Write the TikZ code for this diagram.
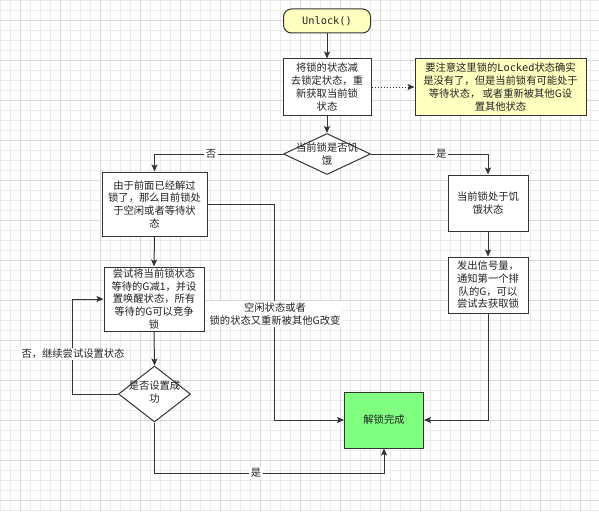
\documentclass[tikz,border=0pt]{standalone}
\usepackage{fontspec}
\setmainfont{Noto Sans CJK SC}
\newfontfamily\monof{DejaVu Sans Mono}
\usetikzlibrary{arrows.meta,shapes.geometric}
\definecolor{linec}{HTML}{333333}
\definecolor{txtc}{HTML}{222222}
\definecolor{minorc}{HTML}{EBEBEB}
\definecolor{majorc}{HTML}{D8D8D8}
\definecolor{notec}{HTML}{FFFFC0}
\definecolor{greenc}{HTML}{80FF80}
\tikzset{
  base/.style={draw=linec, line width=1pt, text=txtc, inner sep=0pt, align=center,
    font=\fontsize{10.3}{12.7}\selectfont},
  boxn/.style={base, rectangle, fill=white},
  termn/.style={base, rectangle, rounded corners=8pt, fill=notec},
  noten/.style={base, rectangle, fill=notec},
  donen/.style={base, rectangle, fill=greenc},
  dian/.style={base, diamond, fill=white},
  conn/.style={draw=linec, line width=1pt, -{Stealth[length=7pt,width=6pt,inset=1.5pt]}},
  elab/.style={fill=white, text=txtc, inner sep=1.5pt, font=\fontsize{10.3}{12.7}\selectfont, align=center},
}
\begin{document}
\begin{tikzpicture}[x=1pt,y=-1pt]
\useasboundingbox (0,0) rectangle (599,511);
\fill[white] (0,0) rectangle (599,511);
% grid
\foreach \x in {0,10,...,590} \draw[minorc, line width=0.8pt] (\x,0) -- (\x,511);
\foreach \y in {0,10,...,510} \draw[minorc, line width=0.8pt] (0,\y) -- (599,\y);
\foreach \x in {20,60,...,580} \draw[majorc, line width=0.8pt] (\x,0) -- (\x,511);
\foreach \y in {20,60,...,500} \draw[majorc, line width=0.8pt] (0,\y) -- (599,\y);

% nodes
\node[termn, minimum width=87pt, minimum height=24pt] (start) at (327,21) {\monof Unlock()};
\node[boxn, minimum width=88pt, minimum height=56pt] (b1) at (327,87)
  {将锁的状态减\\去锁定状态，重\\新获取当前锁\\状态};
\node[noten, minimum width=171pt, minimum height=56pt] (note) at (500.5,87)
  {要注意这里锁的{\monof Locked}状态确实\\是没有了，但是当前锁有可能处于\\等待状态， 或者重新被其他G设\\置其他状态};
\node[dian, minimum width=87pt, minimum height=41pt] (d1) at (327,154) {};
\node[text=txtc, align=center, font=\fontsize{10.3}{12.7}\selectfont, inner sep=0pt] (d1t) at (327,154) {当前锁是否饥\\饿};
\node[boxn, minimum width=105pt, minimum height=64pt] (l1) at (154.5,204)
  {由于前面已经解过\\锁了，那么目前锁处\\于空闲或者等待状\\态};
\node[boxn, minimum width=100pt, minimum height=64pt] (l2) at (154,299)
  {尝试将当前锁状态\\等待的G减1，并设\\置唤醒状态，所有\\等待的G可以竞争\\锁};
\node[dian, minimum width=72pt, minimum height=56pt] (d2) at (154.5,394) {};
\node[text=txtc, align=center, font=\fontsize{10.3}{12.7}\selectfont, inner sep=0pt] (d2t) at (154.5,392) {是否设置成\\功};
\node[boxn, minimum width=80pt, minimum height=56pt] (r1) at (488,203)
  {当前锁处于饥\\饿状态};
\node[boxn, minimum width=80pt, minimum height=56pt] (r2) at (488,285)
  {发出信号量，\\通知第一个排\\队的G，可以\\尝试去获取锁};
\node[donen, minimum width=79pt, minimum height=56pt] (done) at (384,420) {解锁完成};

% helper coordinates
\coordinate (c1a) at (274,204);
\coordinate (c1b) at (274,420);
\coordinate (c2a) at (72,394);
\coordinate (c3a) at (154.5,473);

% connectors
\draw[conn] (start.south) -- (b1.north);
\draw[conn, dotted] (b1.east) -- (note.west);
\draw[conn] (b1.south) -- (d1.north);
\draw[conn] (d1.west) -| (l1.north) node[elab, pos=0.28] {否};
\draw[conn] (d1.east) -| (r1.north) node[elab, pos=0.3] {是};
\draw[conn] (r1.south) -- (r2.north);
\draw[conn] (r2.south) |- (done.east);
\draw[conn] (l1.south) -- (l2.north);
\draw[conn] (l1.east) -- (c1a) -- (c1b) -- (done.west);
\node[elab] (lab1) at (275,314) {空闲状态或者\\锁的状态又重新被其他G改变};
\draw[conn] (l2.south) -- (d2.north);
\draw[conn] (d2.west) -- (c2a) |- (l2.west);
\node[elab] (lab2) at (73,354) {否，继续尝试设置状态};
\draw[conn] (d2.south) -- (c3a) -| (done.south);
\node[elab] (lab3) at (256,473) {是};
\end{tikzpicture}
\end{document}
